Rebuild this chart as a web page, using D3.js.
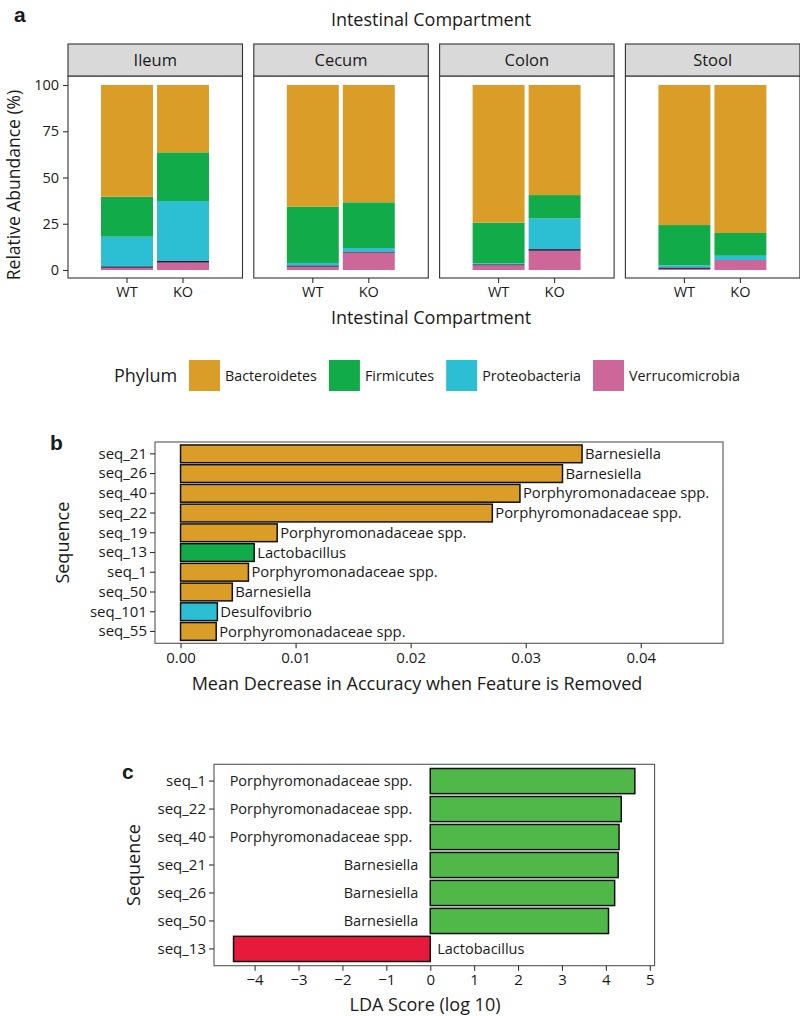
<!DOCTYPE html>
<html><head><meta charset="utf-8">
<script src="https://cdn.jsdelivr.net/npm/d3@7"></script>
<style>
body{margin:0;background:#fff}
text{font-family:"Open Sans","Noto Sans",sans-serif;fill:#1a1a1a}
</style>
</head><body>
<svg id="chart" width="800" height="1016"></svg>
<script>
// ---------- DATA ----------
const compartments = ["Ileum","Cecum","Colon","Stool"];
const genotypes = ["WT","KO"];
const phylumOrder = ["Verrucomicrobia","Other","Proteobacteria","Firmicutes","Bacteroidetes"]; // stack bottom->top
const legendPhyla = ["Bacteroidetes","Firmicutes","Proteobacteria","Verrucomicrobia"];
// values per compartment x genotype: Ileum WT, Ileum KO, Cecum WT, Cecum KO, Colon WT, Colon KO, Stool WT, Stool KO
const verrucomicrobia = [1.2, 4.0, 1.8, 9.4, 2.5, 10.4, 0.6, 5.4];
const other          = [0.8, 1.1, 0.7, 0.6, 0.6, 0.9, 0.8, 0.0];
const proteobacteria = [16.0, 32.2, 1.3, 1.9, 0.5, 16.6, 1.1, 2.3];
const firmicutes     = [21.6, 26.3, 30.4, 24.7, 22.0, 12.6, 21.8, 12.3];
const bacteroidetes  = [60.4, 36.4, 65.8, 63.4, 74.4, 59.5, 75.7, 80.0];
const abundanceTicks = [0, 25, 50, 75, 100];

const seqB = ["seq_21","seq_26","seq_40","seq_22","seq_19","seq_13","seq_1","seq_50","seq_101","seq_55"];
const mdaB = [0.0349,0.0332,0.0295,0.0271,0.0084,0.0064,0.0059,0.0045,0.0032,0.0031];
const taxaB = ["Barnesiella","Barnesiella","Porphyromonadaceae spp.","Porphyromonadaceae spp.","Porphyromonadaceae spp.","Lactobacillus","Porphyromonadaceae spp.","Barnesiella","Desulfovibrio","Porphyromonadaceae spp."];
const phylumB = ["Bacteroidetes","Bacteroidetes","Bacteroidetes","Bacteroidetes","Bacteroidetes","Firmicutes","Bacteroidetes","Bacteroidetes","Proteobacteria","Bacteroidetes"];
const ticksB = [0, 0.01, 0.02, 0.03, 0.04];

const seqC = ["seq_1","seq_22","seq_40","seq_21","seq_26","seq_50","seq_13"];
const ldaC = [4.66,4.35,4.30,4.28,4.20,4.06,-4.48];
const taxaC = ["Porphyromonadaceae spp.","Porphyromonadaceae spp.","Porphyromonadaceae spp.","Barnesiella","Barnesiella","Barnesiella","Lactobacillus"];
const ticksC = [-4,-3,-2,-1,0,1,2,3,4,5];

// ---------- STYLE ----------
const phylumColor = d3.scaleOrdinal()
  .domain(["Bacteroidetes","Firmicutes","Proteobacteria","Verrucomicrobia","Other"])
  .range(["#da9d27","#12ab4a","#2cbfd3","#cd6699","#221c3a"]);
const ldaColor = v => v >= 0 ? "#4fb848" : "#e71a3c";
const frame = "#333";

const svg = d3.select("#chart");

// ---------- PANEL A ----------
const seriesMap = {Verrucomicrobia: verrucomicrobia, Other: other, Proteobacteria: proteobacteria, Firmicutes: firmicutes, Bacteroidetes: bacteroidetes};
const rows = [];
compartments.forEach((c, ci) => genotypes.forEach((g, gi) => {
  const r = {compartment: c, genotype: g};
  phylumOrder.forEach(p => r[p] = seriesMap[p][ci*2 + gi]);
  rows.push(r);
}));
const stack = d3.stack().keys(phylumOrder)(rows);

const panelLeft = 68, panelW = 174.5, panelGap = 11.3;
const stripTop = 44, stripBot = 76, plotBot = 278;
const yA = d3.scaleLinear().domain([0, 100]).range([270, 85]);
const panelX = d3.scaleBand().domain(compartments)
  .range([panelLeft, panelLeft + 4*panelW + 3*panelGap])
  .paddingInner(panelGap/(panelW+panelGap)).paddingOuter(0);

svg.append("text").attr("x", 14).attr("y", 22).text("a")
  .style("font-family","Liberation Sans, Arial, sans-serif").style("font-weight","bold").style("font-size","21px");
svg.append("text").attr("x", 431).attr("y", 26).attr("text-anchor","middle").style("font-size","18px").text("Intestinal Compartment");
svg.append("text").attr("x", 431).attr("y", 324).attr("text-anchor","middle").style("font-size","18px").text("Intestinal Compartment");
svg.append("text").attr("transform","translate(20,185) rotate(-90)").attr("text-anchor","middle").style("font-size","17.5px").text("Relative Abundance (%)");

compartments.forEach(c => {
  const px = panelX(c), pw = panelX.bandwidth();
  const g = svg.append("g");
  const xA = d3.scaleBand().domain(genotypes).range([px + 31, px + 143]).paddingInner(0.072).paddingOuter(0.036);
  stack.forEach(layer => {
    g.selectAll(null).data(layer.filter(d => d.data.compartment === c)).join("rect")
      .attr("x", d => xA(d.data.genotype))
      .attr("width", xA.bandwidth())
      .attr("y", d => yA(d[1]))
      .attr("height", d => Math.max(0, yA(d[0]) - yA(d[1])))
      .attr("fill", phylumColor(layer.key));
  });
  g.append("rect").attr("x", px).attr("y", stripBot).attr("width", pw).attr("height", plotBot - stripBot)
    .attr("fill","none").attr("stroke", frame).attr("stroke-width", 1.1);
  g.append("rect").attr("x", px).attr("y", stripTop).attr("width", pw).attr("height", stripBot - stripTop)
    .attr("fill","#d9d9d9").attr("stroke", frame).attr("stroke-width", 1.1);
  g.append("text").attr("x", px + pw/2).attr("y", (stripTop+stripBot)/2).attr("dy","0.35em")
    .attr("text-anchor","middle").style("font-size","16.5px").text(c);
  const ax = g.append("g").attr("transform", `translate(0,${plotBot})`)
    .call(d3.axisBottom(xA).tickSize(5).tickPadding(4));
  ax.select(".domain").remove();
  ax.selectAll("line").attr("stroke", frame).attr("stroke-width", 1.1);
  ax.selectAll("text").style("font-size","14.5px").style("font-family","Open Sans, sans-serif").attr("fill","#333");
});
const ayA = svg.append("g").attr("transform", `translate(${panelLeft},0)`)
  .call(d3.axisLeft(yA).tickValues(abundanceTicks).tickSize(5).tickPadding(4));
ayA.select(".domain").remove();
ayA.selectAll("line").attr("stroke", frame).attr("stroke-width", 1.1);
ayA.selectAll("text").style("font-size","14.5px").style("font-family","Open Sans, sans-serif").attr("fill","#333");

// ---------- LEGEND ----------
const lgY = 360, keyS = 31;
svg.append("text").attr("x", 114).attr("y", lgY + keyS/2).attr("dy","0.35em").style("font-size","18px").text("Phylum");
let lx = 189;
legendPhyla.forEach(p => {
  svg.append("rect").attr("x", lx).attr("y", lgY).attr("width", keyS).attr("height", keyS).attr("fill", phylumColor(p));
  const t = svg.append("text").attr("x", lx + keyS + 5).attr("y", lgY + keyS/2).attr("dy","0.35em")
    .style("font-size","14.3px").text(p);
  lx += keyS + 5 + t.node().getComputedTextLength() + 12;
});

// ---------- PANEL B ----------
const bL = 155, bR = 723, bT = 442, bB = 643.3;
const xB = d3.scaleLinear().domain([-0.00222, 0.04715]).range([bL, bR]);
const yB = d3.scaleBand().domain(seqB).range([bT, bB]).paddingInner(0.1).paddingOuter(0.15);
const dataB = seqB.map((s, i) => ({seq: s, v: mdaB[i], taxon: taxaB[i], phylum: phylumB[i]}));

svg.append("text").attr("x", 50).attr("y", 450).text("b")
  .style("font-family","Liberation Sans, Arial, sans-serif").style("font-weight","bold").style("font-size","21px");
svg.append("rect").attr("x", bL).attr("y", bT).attr("width", bR - bL).attr("height", bB - bT)
  .attr("fill","none").attr("stroke","#555").attr("stroke-width",1.1);
svg.append("g").selectAll("rect").data(dataB).join("rect")
  .attr("x", xB(0)).attr("y", d => yB(d.seq)).attr("width", d => xB(d.v) - xB(0)).attr("height", yB.bandwidth())
  .attr("fill", d => phylumColor(d.phylum)).attr("stroke","#111").attr("stroke-width",1.5);
svg.append("g").selectAll("text").data(dataB).join("text")
  .attr("x", d => xB(d.v) + 3).attr("y", d => yB(d.seq) + yB.bandwidth()/2).attr("dy","0.35em")
  .style("font-size","14.8px").text(d => d.taxon);
const axB = svg.append("g").attr("transform", `translate(0,${bB})`)
  .call(d3.axisBottom(xB).tickValues(ticksB).tickFormat(d3.format(".2f")).tickSize(5).tickPadding(4));
const ayB = svg.append("g").attr("transform", `translate(${bL},0)`)
  .call(d3.axisLeft(yB).tickSize(5).tickPadding(3));
[axB, ayB].forEach(a => {
  a.select(".domain").remove();
  a.selectAll("line").attr("stroke", frame).attr("stroke-width", 1.1);
  a.selectAll("text").style("font-size","15px").style("font-family","Open Sans, sans-serif").attr("fill","#333");
});
svg.append("text").attr("transform", `translate(69,${(bT+bB)/2}) rotate(-90)`).attr("text-anchor","middle")
  .style("font-size","18px").text("Sequence");
svg.append("text").attr("x", 417).attr("y", 690).attr("text-anchor","middle").style("font-size","18px")
  .text("Mean Decrease in Accuracy when Feature is Removed");

// ---------- PANEL C ----------
const cL = 214, cR = 654.6, cT = 764.3, cB = 965.7;
const xC = d3.scaleLinear().domain([-4.925, 5.11]).range([cL, cR]);
const yC = d3.scaleBand().domain(seqC).range([cT, cB]).paddingInner(0.1).paddingOuter(0.15);
const dataC = seqC.map((s, i) => ({seq: s, v: ldaC[i], taxon: taxaC[i]}));

svg.append("text").attr("x", 122).attr("y", 779).text("c")
  .style("font-family","Liberation Sans, Arial, sans-serif").style("font-weight","bold").style("font-size","21px");
svg.append("rect").attr("x", cL).attr("y", cT).attr("width", cR - cL).attr("height", cB - cT)
  .attr("fill","none").attr("stroke","#555").attr("stroke-width",1.1);
svg.append("g").selectAll("rect").data(dataC).join("rect")
  .attr("x", d => xC(Math.min(0, d.v))).attr("y", d => yC(d.seq))
  .attr("width", d => Math.abs(xC(d.v) - xC(0))).attr("height", yC.bandwidth())
  .attr("fill", d => ldaColor(d.v)).attr("stroke","#111").attr("stroke-width",1.5);
svg.append("g").selectAll("text").data(dataC).join("text")
  .attr("x", d => d.v >= 0 ? xC(0) - 12 - (d.taxon.length > 15 ? 6 : 0) : xC(0) + 7)
  .attr("text-anchor", d => d.v >= 0 ? "end" : "start")
  .attr("y", d => yC(d.seq) + yC.bandwidth()/2).attr("dy","0.35em")
  .style("font-size","14.5px").text(d => d.taxon);
const axC = svg.append("g").attr("transform", `translate(0,${cB})`)
  .call(d3.axisBottom(xC).tickValues(ticksC).tickFormat(d3.format("d")).tickSize(5).tickPadding(4));
const ayC = svg.append("g").attr("transform", `translate(${cL},0)`)
  .call(d3.axisLeft(yC).tickSize(5).tickPadding(3));
[axC, ayC].forEach(a => {
  a.select(".domain").remove();
  a.selectAll("line").attr("stroke", frame).attr("stroke-width", 1.1);
  a.selectAll("text").style("font-size","15px").style("font-family","Open Sans, sans-serif").attr("fill","#333");
});
svg.append("text").attr("transform", `translate(140,${(cT+cB)/2}) rotate(-90)`).attr("text-anchor","middle")
  .style("font-size","18px").text("Sequence");
svg.append("text").attr("x", 425).attr("y", 1011).attr("text-anchor","middle").style("font-size","18px")
  .text("LDA Score (log 10)");
</script>
</body></html>
